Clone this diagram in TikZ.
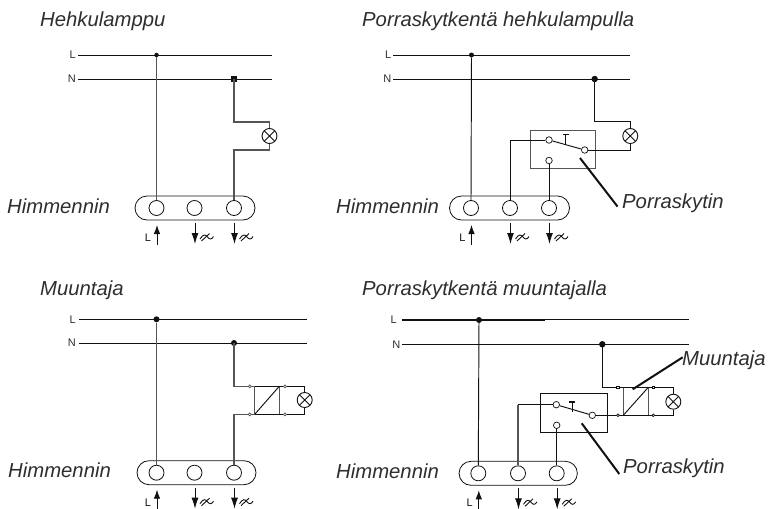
\documentclass[tikz,border=0pt]{standalone}
\usepackage{fontspec}
\setmainfont{Liberation Sans}
\usetikzlibrary{arrows.meta,shapes.geometric}
\definecolor{ink}{HTML}{111111}
\definecolor{wiregray}{HTML}{555555}
\definecolor{textgray}{HTML}{2E2E2E}
\tikzset{
  bus/.style={draw=ink,line width=0.9pt},
  wire/.style={draw=ink,line width=0.95pt},
  graywire/.style={draw=wiregray,line width=1.2pt},
  title/.style={anchor=base west,inner sep=0pt,text=textgray,font=\fontsize{20.3}{22}\selectfont\itshape},
  busname/.style={inner sep=0pt,text=textgray,font=\fontsize{11}{12}\selectfont},
  termname/.style={inner sep=0pt,text=ink,font=\fontsize{11}{12}\selectfont},
  pill/.style={draw=ink,line width=0.8pt,rounded corners=12pt,minimum height=24pt,inner sep=0pt},
  terminal/.style={circle,draw=ink,line width=0.8pt,minimum size=15pt,inner sep=0pt},
  lamp/.style={circle,draw=ink,line width=0.9pt,minimum size=15pt,inner sep=0pt,
    path picture={\draw[ink,line width=0.9pt]
      (path picture bounding box.north west)--(path picture bounding box.south east)
      (path picture bounding box.north east)--(path picture bounding box.south west);}},
  contact/.style={circle,draw=ink,fill=white,line width=0.7pt,minimum size=6.5pt,inner sep=0pt},
  stud/.style={circle,draw=wiregray,fill=white,line width=0.7pt,minimum size=3pt,inner sep=0pt},
  dotjoin/.style={circle,fill=ink,minimum size=#1,inner sep=0pt},
  boxframe/.style={draw=ink,line width=1pt,inner sep=0pt},
  leader/.style={draw=ink,line width=2pt},
  uparrow/.style={draw=ink,line width=0.9pt,-{Latex[length=9pt,width=6.5pt]}},
  downarrow/.style={draw=ink,line width=0.9pt,-{Latex[length=11pt,width=7pt]}},
}
\newcommand{\dimout}[3]{
  \coordinate (#1d0) at (#2+0.5,#3+15);
  \coordinate (#1d1) at (#2+0.5,#3+36);
  \draw[downarrow] (#1d0) -- (#1d1);
  \draw[ink,line width=0.9pt] (#2+5.5,#3+31) .. controls (#2+9,#3+25.5) and (#2+11,#3+26.5) .. (#2+13,#3+29)
     .. controls (#2+15,#3+31.5) and (#2+17,#3+32) .. (#2+19,#3+28.5)
     (#2+7,#3+33) -- (#2+15,#3+25.5);
}
% terminal block: #1 prefix, #2 pill centre x, #3 pill width, #4 y, #5-#7 terminals x, #8 label x
\newcommand{\dimblock}[8]{
  \node[pill,minimum width=#3pt] (#1pill) at (#2,#4) {};
  \node[terminal] (#1a) at (#5,#4) {};
  \node[terminal] (#1b) at (#6,#4) {};
  \node[terminal] (#1c) at (#7,#4) {};
  \node[title] (#1lab) at (#8,#4+5) {Himmennin};
  \coordinate (#1up0) at (#5+0.5,#4+37);
  \coordinate (#1up1) at (#5+0.5,#4+17);
  \draw[uparrow] (#1up0) -- (#1up1);
  \node[termname,anchor=base] (#1L) at (#5-8.5,#4+33.5) {L};
  \dimout{#1b}{#6}{#4}
  \dimout{#1c}{#7}{#4}
}
\newcommand{\busrow}[7]{% prefix, L y, N y, x0, x1, label x
  \node[busname,anchor=east] (#1Lt) at (#6,#2) {L};
  \node[busname,anchor=east] (#1Nt) at (#6,#3) {N};
  \coordinate (#1L0) at (#4,#2); \coordinate (#1L1) at (#5,#2);
  \coordinate (#1N0) at (#4,#3); \coordinate (#1N1) at (#5,#3);
  \draw[#7] (#1L0) -- (#1L1);
  \draw[#7] (#1N0) -- (#1N1);
}
% transformer: prefix, xl, xr, ytop, ybot
\newcommand{\transformer}[5]{
  \coordinate (#1tl) at (#2,#4); \coordinate (#1tr) at (#3,#4);
  \coordinate (#1bl) at (#2,#5); \coordinate (#1br) at (#3,#5);
  \draw[graywire] (#1tl) -- (#1bl) (#1tr) -- (#1br);
  \draw[wire] (#1bl) -- (#1tr);
}
\begin{document}
\begin{tikzpicture}[x=1pt,y=-1pt]
\useasboundingbox (0,0) rectangle (769,509);
%% --- Panel 1
\node[title] (t1) at (40,26) {Hehkulamppu};
\busrow{p}{55}{79}{78}{272}{76}{bus}
\dimblock{a}{195}{120}{208}{156.5}{194.5}{234}{7}
\node[dotjoin=4.5pt] (aLd) at (156.5,55) {};
\node[dotjoin=5.5pt,rectangle] (aNd) at (234,79) {};
\node[lamp] (alamp) at (269.5,136) {};
\draw[graywire] (aLd) -- (aa.north);
\draw[graywire] (aNd.center) -- (234,122) -| (alamp.north);
\draw[graywire] (alamp.south) |- (234,150) -- (ac.north);
%% --- Panel 2
\node[title] (t2) at (362,26) {Porraskytkentä hehkulampulla};
\busrow{q}{55}{79}{393}{630}{391.5}{bus}
\dimblock{b}{509.5}{120}{208}{471}{510}{549}{336}
\node[dotjoin=5pt] (bLd) at (471.5,55) {};
\node[dotjoin=6.5pt] (bNd) at (594.7,79) {};
\node[lamp] (blamp) at (630.3,136) {};
\node[boxframe,draw=wiregray,minimum width=65.3pt,minimum height=38pt] (bsw) at (563.3,149) {};
\draw[wire] (bLd) -- (ba.north);
\draw[wire] (bNd.center) -- (594.7,121) -| (blamp.north);
\node[contact] (bc1) at (549,140) {};
\node[contact] (bc2) at (584.7,150) {};
\node[contact] (bc3) at (549,160.5) {};
\draw[wire] (blamp.south) |- (bc2.east);
\draw[wire] (bb.north) |- (bc1.west);
\draw[wire] (bc3.south) -- (bc.north);
\draw[wire] (bc1) -- (bc2);
\coordinate (bT0) at (565.7,134); \coordinate (bT1) at (565.7,144);
\draw[wire] (bT0) -- (bT1);
\draw[line width=1.4pt,ink] (562.7,134.5) -- (568.7,134.5);
\coordinate (bl0) at (580,158);
\node[title] (bpor) at (622,208) {Porraskytin};
\draw[leader] (bl0) -- (617.5,206.5);
%% --- Panel 3
\node[title] (t3) at (40,295) {Muuntaja};
\busrow{r}{319.3}{343}{79}{307}{76}{bus}
\dimblock{c}{196.5}{119}{472.7}{156.5}{194.5}{234}{8}
\node[dotjoin=6pt] (cLd) at (156.5,319.3) {};
\node[dotjoin=6pt] (cNd) at (234,343) {};
\node[lamp] (clamp) at (304.7,400) {};
\transformer{c}{254.7}{279.3}{386.3}{414.3}
\draw[graywire] (cLd) -- (ca.north);
\draw[graywire] (cNd.center) -- (234,386.3) -- (ctl);
\draw[wire] (ctl) -- (ctr) -- (304.7,386.3) -- (clamp.north);
\draw[wire] (clamp.south) -- (304.7,414.3) -- (cbr) -- (cbl);
\draw[graywire] (cbl) -- (234,414.3) -- (cc.north);
\node[stud] (cs1) at (249.7,386.3) {};
\node[stud] (cs2) at (285,386.3) {};
\node[stud] (cs3) at (249.7,414.3) {};
\node[stud] (cs4) at (285,414.3) {};
%% --- Panel 4
\node[title] (t4) at (362,295) {Porraskytkentä muuntajalla};
\node[busname,anchor=east] (dLt) at (397,320) {L};
\node[busname,anchor=east] (dNt) at (400.5,345) {N};
\coordinate (dL0) at (401.7,320); \coordinate (dL1) at (545,320);
\coordinate (dL2) at (545,319.3); \coordinate (dL3) at (688.7,319.3);
\coordinate (dN0) at (401.7,344.3); \coordinate (dN1) at (688.7,344.3);
\draw[ink,line width=1.2pt] (dL0) -- (dL1);
\draw[ink,line width=0.9pt] (dL2) -- (dL3);
\draw[ink,line width=1.2pt] (dN0) -- (dN1);
\dimblock{d}{518.2}{118.3}{473.3}{478.3}{518}{556.7}{336}
\node[dotjoin=6pt] (dLd) at (479,320) {};
\node[dotjoin=6.5pt] (dNd) at (602.3,344.3) {};
\node[lamp] (dlamp) at (673.3,401.7) {};
\node[boxframe,minimum width=67.3pt,minimum height=39pt] (dsw) at (573.7,412.8) {};
\transformer{d}{623.3}{648.3}{387.3}{415.3}
\draw[wire] (dLd) -- (da.north);
\draw[wire] (dNd.center) -- (602.3,387.3) -- (dtl);
\draw[wire] (dtl) -- (dtr) -- (673.3,387.3) -- (dlamp.north);
\node[contact] (dc1) at (556.3,404.7) {};
\node[contact] (dc2) at (592.3,415.3) {};
\node[contact] (dc3) at (556.7,425.3) {};
\draw[wire] (dlamp.south) -- (673.3,415.3) -- (dbr) -- (dbl) -- (dc2.east);
\draw[graywire] (db.north) -- (518,404.7);
\draw[wire] (518,404.7) -- (dc1.west);
\draw[wire] (dc3.south) -- (dc.north);
\draw[wire] (dc1) -- (dc2);
\coordinate (dT0) at (572.3,401.7); \coordinate (dT1) at (572.3,412);
\draw[wire] (dT0) -- (dT1);
\draw[line width=1.4pt,ink] (569.3,402) -- (575.3,402);
\node[stud,rectangle,minimum size=2.5pt,draw=ink] (ds1) at (618,387.3) {};
\node[stud,rectangle,minimum size=2.5pt,draw=ink] (ds2) at (653.3,387.3) {};
\node[stud,diamond,minimum size=3pt,draw=ink] (ds3) at (618,415.3) {};
\node[stud,diamond,minimum size=3pt,draw=ink] (ds4) at (653.3,415.3) {};
\coordinate (dl0) at (581.7,423.3);
\node[title] (dpor) at (623,473) {Porraskytin};
\draw[leader] (dl0) -- (619.3,474);
\coordinate (dm0) at (632.7,389.3);
\node[title] (dmuu) at (682,365) {Muuntaja};
\draw[leader] (dm0) -- (682.7,357.3);
\end{tikzpicture}
\end{document}
